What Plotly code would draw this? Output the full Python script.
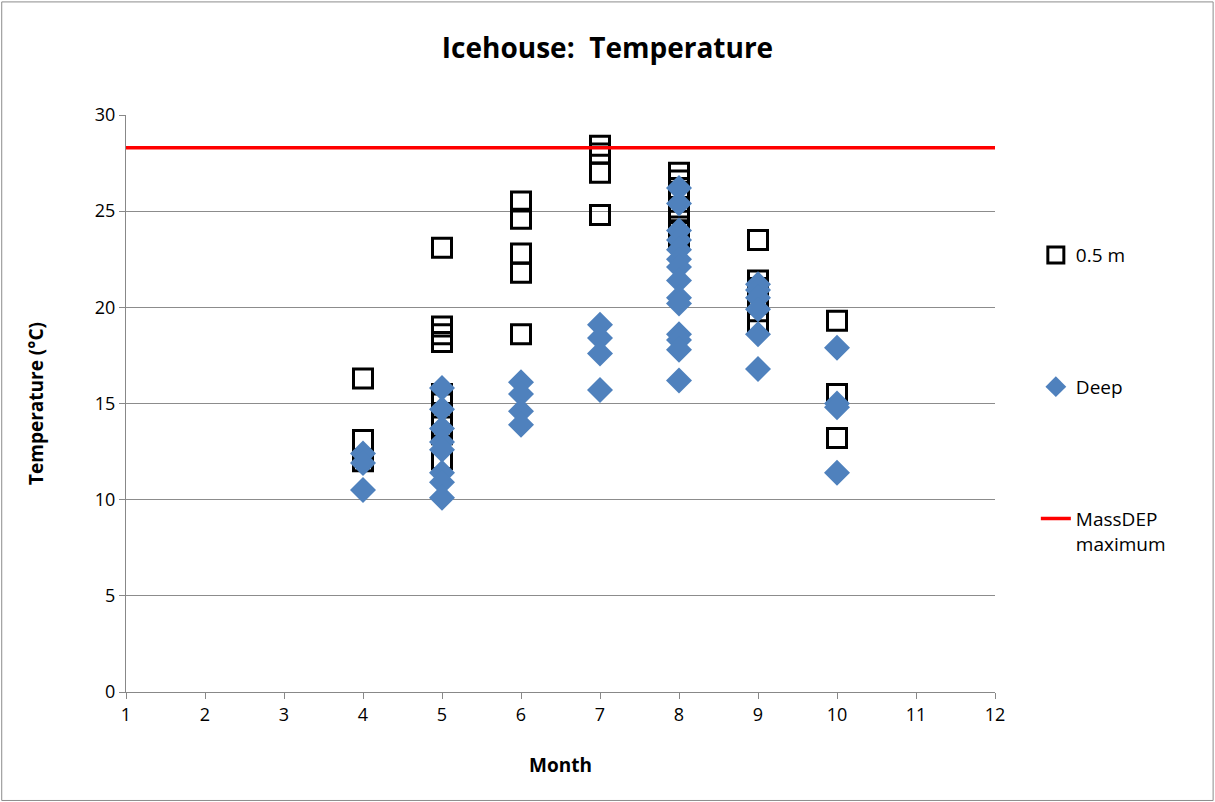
import plotly.graph_objects as go

# Temperatura a 0.5 m (cuadrados)
mes_sup = [4, 4, 4,
           5, 5, 5, 5, 5, 5, 5, 5, 5, 5,
           6, 6, 6, 6, 6,
           7, 7, 7, 7,
           8, 8, 8, 8, 8, 8, 8, 8, 8,
           9, 9, 9, 9, 9, 9,
           10, 10, 10]
temp_sup = [16.3, 13.1, 12.0,
            23.1, 19.0, 18.6, 18.2, 15.5, 15.0, 14.3, 13.8, 13.4, 12.1,
            25.5, 24.6, 22.8, 21.8, 18.6,
            28.4, 28.0, 27.0, 24.8,
            27.0, 26.6, 26.2, 25.8, 25.0, 24.5, 24.2, 23.9, 23.5,
            23.5, 21.4, 21.0, 20.5, 19.8, 19.2,
            19.3, 15.5, 13.2]

# Temperatura profunda (rombos)
mes_prof = [4, 4, 4,
            5, 5, 5, 5, 5, 5, 5, 5,
            6, 6, 6, 6,
            7, 7, 7, 7,
            8, 8, 8, 8, 8, 8, 8, 8, 8, 8, 8, 8, 8, 8,
            9, 9, 9, 9, 9, 9,
            10, 10, 10, 10]
temp_prof = [12.4, 11.9, 10.5,
             15.8, 14.7, 13.7, 13.0, 12.6, 11.4, 10.9, 10.1,
             16.1, 15.5, 14.6, 13.9,
             19.1, 18.4, 17.6, 15.7,
             26.2, 25.4, 24.0, 23.5, 23.0, 22.5, 22.1, 21.4, 20.5, 20.2, 18.6, 18.3, 17.8, 16.2,
             21.2, 20.9, 20.5, 19.9, 18.6, 16.8,
             17.9, 15.0, 14.8, 11.4]

# Máximo MassDEP
max_x = [1, 12]
max_y = [28.3, 28.3]

fig = go.Figure()
fig.add_trace(go.Scatter(
    x=mes_sup, y=temp_sup, mode="markers", name="0.5 m", legendgroup="a",
    marker=dict(symbol="square-open", size=19, color="black", line=dict(width=3, color="black")),
))
fig.add_trace(go.Scatter(
    x=mes_prof, y=temp_prof, mode="markers", name="Deep", legendgroup="b",
    marker=dict(symbol="diamond", size=20, color="#4F81BD", line=dict(width=0)),
))
fig.add_trace(go.Scatter(
    x=max_x, y=max_y, mode="lines", name="MassDEP<br>maximum", legendgroup="c",
    line=dict(color="#FF0000", width=3.5),
))

fig.update_layout(
    width=1215, height=802,
    margin=dict(l=126, r=220, t=115, b=110),
    paper_bgcolor="white", plot_bgcolor="white",
    font=dict(family="Open Sans", size=18, color="black"),
    title=dict(text="<b>Icehouse:  Temperature</b>", x=0.5, xanchor="center",
               y=0.94, yanchor="middle", font=dict(size=28)),
    xaxis=dict(range=[1, 12], dtick=1, showgrid=False, showline=True, linecolor="#888888",
               linewidth=1, ticks="outside", ticklen=6, tickcolor="#888888", zeroline=False,
               title=dict(text="<b>Month</b>", font=dict(size=19), standoff=34)),
    yaxis=dict(range=[0, 30], dtick=5, showgrid=True, gridcolor="#8c8c8c", gridwidth=1,
               showline=True, linecolor="#888888", linewidth=1, ticks="outside", ticklen=6,
               tickcolor="#888888", zeroline=False,
               title=dict(text="<b>Temperature (°C)</b>", font=dict(size=19), standoff=46)),
    legend=dict(x=1.047, y=0.79, xanchor="left", yanchor="top", tracegroupgap=104,
                valign="top", font=dict(size=19), bgcolor="rgba(0,0,0,0)"),
    shapes=[dict(type="rect", xref="paper", yref="paper", x0=-0.143, x1=1.251,
                 y0=-0.188, y1=1.196, line=dict(color="#8c8c8c", width=1))],
)

fig.write_html("out.html", config={"displayModeBar": False},
               post_script="document.body.style.margin='0';")
